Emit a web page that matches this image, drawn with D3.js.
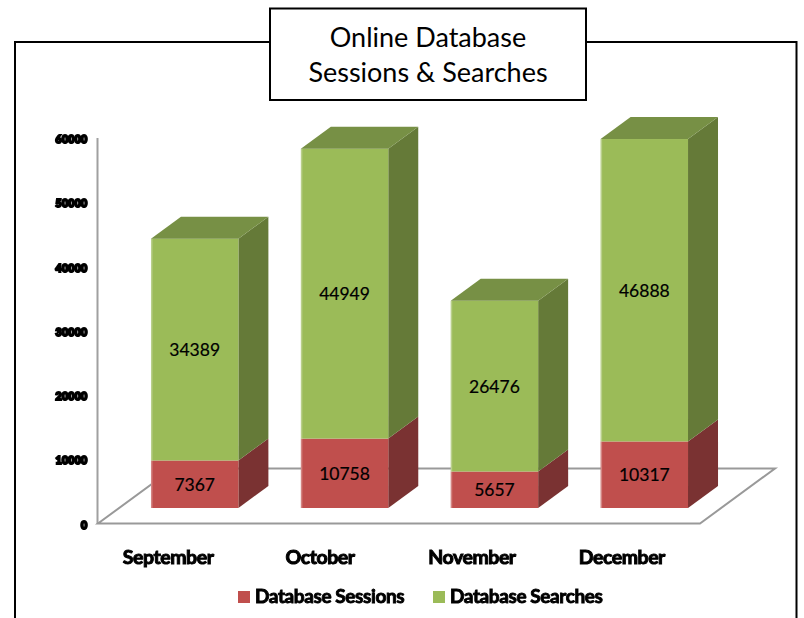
<!DOCTYPE html>
<html><head><meta charset="utf-8">
<script src="https://cdn.jsdelivr.net/npm/d3@7/dist/d3.min.js"></script>
<style>html,body{margin:0;padding:0;background:#fff}svg{display:block}</style>
</head><body><svg id="c" width="804" height="618"></svg>
<script>
const months = ["September","October","November","December"];
const seriesNames = ["Database Sessions","Database Searches"];
const sessions = [7367,10758,5657,10317];
const searches = [34389,44949,26476,46888];
const axisTicks = [0,10000,20000,30000,40000,50000,60000];
const titleLines = ["Online Database","Sessions & Searches"];
const frontColors = ["#c0504d","#9bbb59"];
const topColors = ["#964040","#779044"];
const sideColors = ["#7a3331","#657a39"];
const monthLabelShift = [-27,-25,-23,-23];

const svg = d3.select("#c");
const defs = svg.append("defs");
defs.append("filter").attr("id","soft").append("feGaussianBlur").attr("stdDeviation",0.45);

svg.append("path").attr("d","M15,618V42H796.5V618").attr("fill","none").attr("stroke","#000").attr("stroke-width",2);

svg.append("rect").attr("x",270).attr("y",8.5).attr("width",316).attr("height",91.5)
  .attr("fill","#fff").attr("stroke","#000").attr("stroke-width",2);
svg.selectAll(".title").data(titleLines).join("text").attr("class","title")
  .attr("x",428).attr("y",(d,i)=>47+i*35).attr("text-anchor","middle")
  .attr("font-family","Lato").attr("font-size",27).attr("fill","#000").text(d=>d);

const yAxisScale = d3.scaleLinear().domain([0,60000]).range([525,139.5]);
const yBar = d3.scaleLinear().domain([0,60000]).range([508,121]);
const x = d3.scaleBand().domain(months).range([120,720]).paddingInner(0.4167).paddingOuter(0.21);

const depthX = 30, depthY = 22;
const wall = svg.append("g").attr("filter","url(#soft)");
wall.append("line").attr("x1",97.5).attr("x2",97.5).attr("y1",138).attr("y2",524).attr("stroke","#a0a0a0").attr("stroke-width",2);
wall.append("path").attr("d","M98,523.5H700L775,468.5H173Z").attr("fill","#fff").attr("stroke","#999").attr("stroke-width",2);

const tickG = svg.append("g").attr("filter","url(#soft)");
tickG.selectAll("text").data(axisTicks).join("text")
  .attr("x",87.5).attr("y",d=>yAxisScale(d)+3.5).attr("text-anchor","end")
  .attr("font-family","Lato").attr("font-weight",900).attr("font-size",10.5).attr("letter-spacing",0.3)
  .attr("stroke","#000").attr("stroke-width",2).attr("fill","#000").text(d=>d);

const rows = months.map((m,i)=>({month:m,sessions:sessions[i],searches:searches[i]}));
const stack = d3.stack().keys(["sessions","searches"])(rows);

const marks = svg.append("g").attr("filter","url(#soft)");
const w = x.bandwidth();
months.forEach((m,mi)=>{
  const g = marks.append("g");
  stack.forEach((layer,si)=>{
    const [a,b] = layer[mi];
    const l = x(m)-0.5, r = l+w, y0 = yBar(a), y1 = yBar(b);
    g.append("path").attr("d",`M${r},${y0}L${r+depthX},${y0-depthY}V${y1-depthY}L${r},${y1}Z`).attr("fill",sideColors[si]);
    g.append("rect").attr("x",l).attr("y",y1).attr("width",w).attr("height",y0-y1).attr("fill",frontColors[si]);
    g.append("rect").attr("x",l).attr("y",y1).attr("width",1.5).attr("height",y0-y1).attr("fill","#fff").attr("opacity",0.3);
    if(si===1){
      g.append("path").attr("d",`M${l},${y1}L${l+depthX},${y1-depthY}H${r+depthX}L${r},${y1}Z`).attr("fill",topColors[si]);
    }
  });
});
const labelG = svg.append("g");
stack.forEach(layer=>{
  months.forEach((m,mi)=>{
    const [a,b] = layer[mi];
    labelG.append("text").attr("x",x(m)+w/2-0.5).attr("y",(yBar(a)+yBar(b))/2+6.5)
      .attr("text-anchor","middle").attr("font-family","Lato").attr("font-size",17.5).attr("fill","#000")
      .attr("stroke","#000").attr("stroke-width",0.2).text(b-a);
  });
});

const xG = svg.append("g").attr("filter","url(#soft)");
xG.selectAll("text").data(months).join("text")
  .attr("x",(d,i)=>x(d)+w/2+monthLabelShift[i]).attr("y",564).attr("text-anchor","middle")
  .attr("font-family","Lato").attr("font-weight",700).attr("font-size",19.5).attr("letter-spacing",-0.45)
  .attr("stroke","#000").attr("stroke-width",1).attr("fill","#000").text(d=>d);

const legendX = [238,433];
const lg = svg.append("g").attr("filter","url(#soft)");
seriesNames.forEach((n,i)=>{
  lg.append("rect").attr("x",legendX[i]).attr("y",591).attr("width",12).attr("height",12).attr("fill",frontColors[i]);
  lg.append("text").attr("x",legendX[i]+17).attr("y",603).attr("font-family","Lato").attr("font-weight",700)
    .attr("font-size",19).attr("letter-spacing",-0.4).attr("stroke","#000").attr("stroke-width",0.9).attr("fill","#000").text(n);
});
</script></body></html>
